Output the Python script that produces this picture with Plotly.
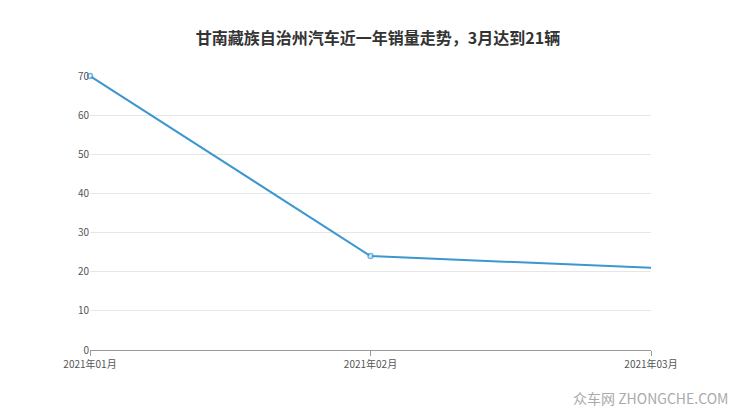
import plotly.graph_objects as go

months = ["2021年01月", "2021年02月", "2021年03月"]
sales = [70, 24, 21]
marker_sizes = [5, 5, 0]

fig = go.Figure(go.Scatter(
    x=months, y=sales, mode="lines+markers",
    line=dict(color="#3a97cf", width=2),
    marker=dict(size=marker_sizes, color="white", line=dict(color="#3a97cf", width=1.5)),
    cliponaxis=False,
))
fig.update_layout(
    width=740, height=417,
    margin=dict(l=82, r=97, t=68, b=75),
    paper_bgcolor="white", plot_bgcolor="white",
    font=dict(family="Noto Sans CJK SC", size=10, color="#555"),
    title=dict(text="<b>甘南藏族自治州汽车近一年销量走势，3月达到21辆</b>", x=0.5, y=0.94,
               xanchor="center", font=dict(size=16, color="#333")),
    showlegend=False,
)
fig.update_xaxes(type="category", range=[0, 2], showgrid=False, showline=True,
                 linecolor="#999", ticks="outside", ticklen=5, tickcolor="#999")
fig.update_yaxes(range=[0, 70], dtick=10, showgrid=True, gridcolor="#e6e6e6",
                 zeroline=False, showline=False)
fig.add_annotation(text="众车网 ZHONGCHE.COM", xref="paper", yref="paper", x=1.14, y=-0.22,
                   xanchor="right", yanchor="bottom", showarrow=False,
                   font=dict(size=14, color="#aaa"))
fig.write_html("out.html")
